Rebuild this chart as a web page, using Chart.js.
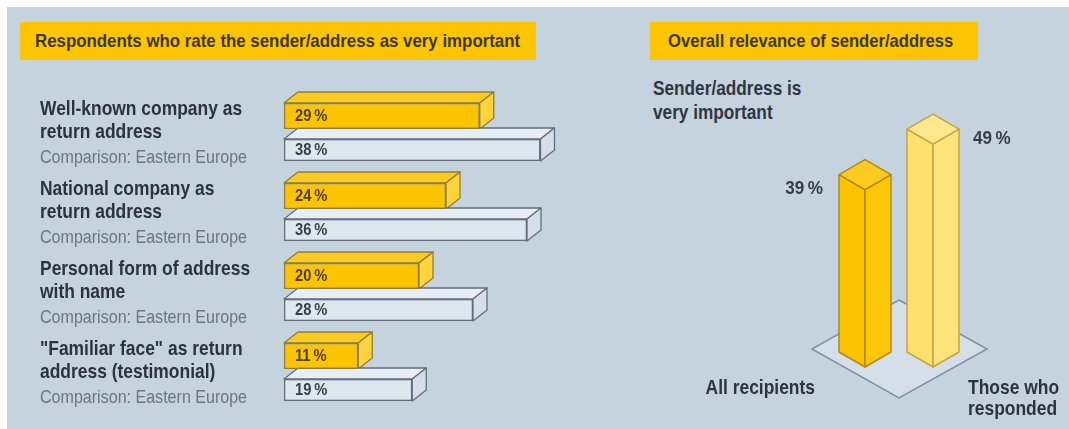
<!DOCTYPE html>
<html lang="en">
<head>
<meta charset="UTF-8">
<title>Relevance of sender/address</title>
<script src="https://cdn.jsdelivr.net/npm/chart.js"></script>
<style>
    body {
        margin: 0;
        width: 1069px;
        height: 429px;
        position: relative;
        overflow: hidden;
        background: #ffffff;
        font-family: "Liberation Sans", Arial, sans-serif;
    }
    .painel {
        position: absolute;
        left: 7px; top: 7px; right: 0; bottom: 0;
        background: #c5d3df;
    }
    .cabecalho {
        position: absolute;
        top: 22px;
        height: 38px;
        line-height: 38px;
        background: #fcc500;
        color: #3b3826;
        font-weight: bold;
        font-size: 19px;
        white-space: nowrap;
        box-sizing: border-box;
    }
    /* fonte condensada: Liberation Sans comprimida na horizontal */
    .estreito {
        display: inline-block;
        transform-origin: left center;
    }
    .subtitulo {
        position: absolute;
        left: 653px; top: 76px;
        font-weight: bold;
        font-size: 21px;
        line-height: 24px;
        color: #2f3541;
        white-space: nowrap;
    }
    canvas { position: absolute; top: 0; }
</style>
</head>
<body>
<div class="painel"></div>
<div class="cabecalho" style="left:20px; width:516px; padding-left:15px;">
    <span class="estreito" style="transform:scaleX(0.887)">Respondents who rate the sender/address as very important</span>
</div>
<div class="cabecalho" style="left:650px; width:328px; padding-left:18px;">
    <span class="estreito" style="transform:scaleX(0.874)">Overall relevance of sender/address</span>
</div>
<div class="subtitulo">
    <span class="estreito" style="transform:scaleX(0.82)">Sender/address is</span><br>
    <span class="estreito" style="transform:scaleX(0.82)">very important</span>
</div>

<canvas id="graficoBarras" width="600" height="429" style="left:0; width:600px; height:429px;"></canvas>
<canvas id="graficoColunas" width="469" height="429" style="left:600px; width:469px; height:429px;"></canvas>

<script>
// dados do gráfico da esquerda
const categorias = [
    ['Well-known company as', 'return address'],
    ['National company as', 'return address'],
    ['Personal form of address', 'with name'],
    ['"Familiar face" as return', 'address (testimonial)']
];
const textoComparacao = 'Comparison: Eastern Europe';
const valoresGeral = [29, 24, 20, 11];
const valoresLeste = [38, 36, 28, 19];

// dados do gráfico da direita
const grupos = [['All recipients'], ['Those who', 'responded']];
const relevancia = [39, 49];

const fonte = '"Liberation Sans", Arial, sans-serif';
const pct = v => v + '\u2009%';

// escreve texto comprimido na horizontal (efeito de fonte condensada)
function textoEstreito(ctx, txt, x, y, sx) {
    ctx.save();
    ctx.translate(x, y);
    ctx.scale(sx, 1);
    ctx.fillText(txt, 0, 0);
    ctx.restore();
}

// cores das barras (frente, topo, lateral, contorno, texto)
const estiloGeral = { frente: '#fcc300', topo: '#fbcb22', lado: '#fed43a', linha: '#8f7d3a', texto: '#4a3f1a' };
const estiloLeste = { frente: '#dfe7ee', topo: '#e8eef3', lado: '#d6dfe8', linha: '#5f6f7d', texto: '#37404c' };

function poligono(ctx, pts, fill, stroke, lw) {
    ctx.beginPath();
    ctx.moveTo(pts[0][0], pts[0][1]);
    for (let i = 1; i < pts.length; i++) ctx.lineTo(pts[i][0], pts[i][1]);
    ctx.closePath();
    ctx.fillStyle = fill;
    ctx.fill();
    ctx.lineWidth = lw;
    ctx.strokeStyle = stroke;
    ctx.stroke();
}

// profundidade das barras horizontais
const DX = 14, DY = 11;

const barras3d = {
    id: 'barras3d',
    beforeDatasetsDraw(chart) {
        const ctx = chart.ctx;
        ctx.save();
        ctx.lineJoin = 'round';
        chart.data.datasets.forEach((ds, i) => {
            const est = ds.estilo;
            chart.getDatasetMeta(i).data.forEach(bar => {
                const p = bar.getProps(['x', 'y', 'base', 'height'], true);
                const x0 = p.base, x1 = p.x;
                const yT = p.y - p.height / 2, yB = p.y + p.height / 2;
                poligono(ctx, [[x0, yT], [x0 + DX, yT - DY], [x1 + DX, yT - DY], [x1, yT]], est.topo, est.linha, 1.3);
                poligono(ctx, [[x1, yT], [x1 + DX, yT - DY], [x1 + DX, yB - DY], [x1, yB]], est.lado, est.linha, 1.3);
            });
        });
        ctx.restore();
    },
    afterDatasetsDraw(chart) {
        const ctx = chart.ctx;
        ctx.save();
        ctx.textBaseline = 'middle';
        ctx.textAlign = 'left';
        chart.data.datasets.forEach((ds, i) => {
            chart.getDatasetMeta(i).data.forEach((bar, j) => {
                const p = bar.getProps(['y', 'base'], true);
                ctx.font = 'bold 16px ' + fonte;
                ctx.fillStyle = ds.estilo.texto;
                textoEstreito(ctx, pct(ds.data[j]), p.base + 11, p.y + 1, 0.92);
            });
        });
        // rótulos das categorias à esquerda
        const y = chart.scales.y;
        ctx.textBaseline = 'alphabetic';
        categorias.forEach((linhas, i) => {
            const yc = y.getPixelForValue(i);
            ctx.font = 'bold 21px ' + fonte;
            ctx.fillStyle = '#2c323e';
            textoEstreito(ctx, linhas[0], 40, yc - 18, 0.83);
            textoEstreito(ctx, linhas[1], 40, yc + 5, 0.83);
            ctx.font = '19px ' + fonte;
            ctx.fillStyle = '#6b7581';
            textoEstreito(ctx, textoComparacao, 40, yc + 30, 0.845);
        });
        ctx.restore();
    }
};

new Chart(document.getElementById('graficoBarras'), {
    type: 'bar',
    data: {
        labels: categorias,
        datasets: [
            {
                data: valoresGeral,
                estilo: estiloGeral,
                backgroundColor: estiloGeral.frente,
                borderColor: estiloGeral.linha,
                borderWidth: 1.5,
                borderSkipped: false,
                barPercentage: 0.765
            },
            {
                data: valoresLeste,
                estilo: estiloLeste,
                backgroundColor: estiloLeste.frente,
                borderColor: estiloLeste.linha,
                borderWidth: 1.5,
                borderSkipped: false,
                barPercentage: 0.647
            }
        ]
    },
    options: {
        indexAxis: 'y',
        responsive: false,
        animation: false,
        categoryPercentage: 0.85,
        layout: { padding: { left: 284, right: 46, top: 93, bottom: 16 } },
        scales: {
            x: { display: false, min: 0, max: 40 },
            y: { display: false }
        },
        plugins: { legend: { display: false }, tooltip: { enabled: false } }
    },
    plugins: [barras3d]
});

// colunas isométricas
const estiloColunas = [
    { esq: '#fcc300', dir: '#fbc708', topo: '#fdcb20', linha: '#b08a14' },
    { esq: '#ffe06c', dir: '#ffe47c', topo: '#ffe78e', linha: '#c6a444' }
];
const MEIA_L = 26, MEIA_A = 15;

const colunas3d = {
    id: 'colunas3d',
    beforeDatasetsDraw(chart) {
        // plano da base
        const ctx = chart.ctx;
        const a = chart.chartArea;
        const cx = (a.left + a.right) / 2;
        const cy = chart.scales.y.getPixelForValue(0) - 18;
        ctx.save();
        poligono(ctx, [[cx, cy - 49], [cx + 88, cy], [cx, cy + 49], [cx - 87, cy]], '#d4dfe9', '#7e90a6', 1.5);
        ctx.restore();
    },
    afterDatasetsDraw(chart) {
        const ctx = chart.ctx;
        ctx.save();
        ctx.lineJoin = 'round';
        chart.getDatasetMeta(0).data.forEach((bar, i) => {
            const p = bar.getProps(['x', 'y', 'base'], true);
            const e = estiloColunas[i];
            const x = p.x, y = p.y, b = p.base;
            poligono(ctx, [[x - MEIA_L, y - MEIA_A], [x, y], [x, b], [x - MEIA_L, b - MEIA_A]], e.esq, e.linha, 1.5);
            poligono(ctx, [[x, y], [x + MEIA_L, y - MEIA_A], [x + MEIA_L, b - MEIA_A], [x, b]], e.dir, e.linha, 1.5);
            poligono(ctx, [[x, y], [x - MEIA_L, y - MEIA_A], [x, y - 2 * MEIA_A], [x + MEIA_L, y - MEIA_A]], e.topo, e.linha, 1.5);

            ctx.font = 'bold 19px ' + fonte;
            ctx.fillStyle = '#363d49';
            ctx.textBaseline = 'middle';
            if (i === 0) {
                ctx.textAlign = 'right';
                textoEstreito(ctx, pct(relevancia[i]), x - MEIA_L - 16, y - 1, 0.9);
            } else {
                ctx.textAlign = 'left';
                textoEstreito(ctx, pct(relevancia[i]), x + MEIA_L + 14, y - 5, 0.9);
            }

            // nomes dos grupos
            ctx.font = 'bold 21px ' + fonte;
            ctx.fillStyle = '#2c323e';
            ctx.textBaseline = 'alphabetic';
            grupos[i].forEach((txt, k) => {
                if (i === 0) {
                    ctx.textAlign = 'right';
                    textoEstreito(ctx, txt, x - 50, b + 27 + k * 21, 0.83);
                } else {
                    ctx.textAlign = 'left';
                    textoEstreito(ctx, txt, x + 35, b + 27 + k * 21, 0.83);
                }
            });
        });
        ctx.restore();
    }
};

new Chart(document.getElementById('graficoColunas'), {
    type: 'bar',
    data: {
        labels: grupos,
        datasets: [{
            data: relevancia,
            backgroundColor: 'rgba(0,0,0,0)',
            borderWidth: 0
        }]
    },
    options: {
        responsive: false,
        animation: false,
        layout: { padding: { left: 231, right: 102, top: 94, bottom: 62 } },
        scales: {
            x: { display: false },
            y: { display: false, min: 0, max: 60 }
        },
        plugins: { legend: { display: false }, tooltip: { enabled: false } }
    },
    plugins: [colunas3d]
});
</script>
</body>
</html>
